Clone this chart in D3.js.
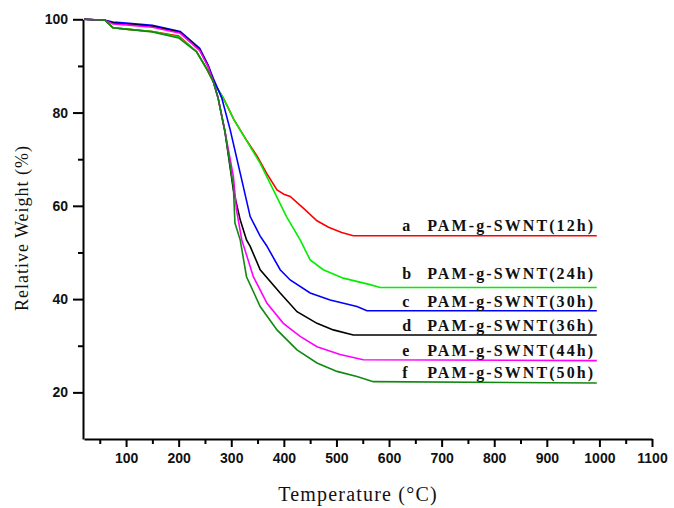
<!DOCTYPE html>
<html>
<head>
<meta charset="utf-8">
<script src="https://cdn.jsdelivr.net/npm/d3@7"></script>
<style>
  body { margin: 0; background: #fff; }
  svg { display: block; }
</style>
</head>
<body>
<div id="chart"></div>
<script>
// TGA curves
const tempA = [20, 60, 75, 100, 150, 200, 234, 253, 266, 285, 305, 329, 350, 367, 387, 400, 412, 437, 463, 485, 510, 532, 995];
const wtA   = [100, 99.8, 98.2, 97.9, 97.4, 96.4, 93.1, 89.5, 86.6, 83.1, 78.5, 74.1, 70.5, 67.0, 63.4, 62.5, 62.0, 59.5, 56.8, 55.4, 54.3, 53.6, 53.6];

const tempB = [20, 60, 75, 100, 150, 200, 234, 253, 266, 285, 305, 329, 355, 380, 405, 431, 450, 475, 513, 564, 583, 995];
const wtB   = [100, 99.8, 98.2, 97.9, 97.4, 96.2, 93.1, 89.5, 86.6, 83.1, 78.5, 74.0, 69.1, 63.4, 57.7, 52.7, 48.4, 46.3, 44.5, 43.1, 42.5, 42.5];

const tempC = [20, 60, 75, 100, 150, 203, 240, 256, 266, 282, 298, 317, 336, 355, 367, 393, 412, 450, 488, 539, 558, 995];
const wtC   = [100, 99.8, 99.4, 99.2, 98.7, 97.4, 93.8, 90.2, 87.3, 83.1, 76.3, 67.0, 57.7, 53.5, 51.5, 46.3, 44.1, 41.3, 39.8, 38.4, 37.5, 37.5];

const tempD = [20, 60, 75, 100, 150, 203, 240, 256, 266, 275, 288, 304, 317, 329, 336, 355, 393, 425, 463, 494, 532, 995];
const wtD   = [100, 99.8, 99.2, 99.0, 98.5, 97.2, 93.5, 90.0, 86.6, 83.1, 75.9, 63.4, 57.0, 52.7, 51.3, 46.3, 41.3, 37.3, 34.8, 33.4, 32.3, 32.3];

const tempE = [20, 60, 75, 100, 150, 203, 240, 256, 266, 275, 288, 304, 310, 320, 342, 368, 399, 431, 463, 507, 551, 995];
const wtE   = [100, 99.8, 99.0, 98.8, 98.3, 97.0, 93.3, 89.8, 86.6, 83.1, 76.0, 66.3, 59.1, 52.7, 44.8, 39.1, 34.8, 32.0, 29.8, 28.1, 27.0, 26.8];

const tempF = [20, 60, 75, 100, 150, 200, 234, 253, 266, 275, 288, 304, 307, 317, 329, 355, 387, 425, 463, 501, 539, 570, 995];
const wtF   = [100, 99.8, 98.2, 97.9, 97.3, 96.0, 93.0, 89.4, 86.6, 83.1, 75.9, 64.1, 56.3, 52.7, 44.8, 38.4, 33.4, 29.1, 26.3, 24.5, 23.4, 22.3, 22.0];

const letters = ["a", "b", "c", "d", "e", "f"];
const names = ["PAM-g-SWNT(12h)", "PAM-g-SWNT(24h)", "PAM-g-SWNT(30h)", "PAM-g-SWNT(36h)", "PAM-g-SWNT(44h)", "PAM-g-SWNT(50h)"];
const colors = ["#ff0000", "#00ee00", "#0000ff", "#000000", "#ff00ff", "#118811"];
// label baseline heights (% weight) and start temperature
const labelWt = [54.7, 44.3, 38.4, 33.2, 27.9, 23.0];
const labelTemp = 625;

const xMajor = d3.range(100, 1101, 100);
const xMinor = d3.range(50, 1100, 100);
const yMajor = [20, 40, 60, 80, 100];
const yMinor = [30, 50, 70, 90];

const width = 674, height = 508;

const svg = d3.select("#chart").append("svg")
    .attr("width", width)
    .attr("height", height);

const x = d3.scaleLinear().domain([20, 1100]).range([84, 652]);
const y = d3.scaleLinear().domain([10, 100]).range([439, 19.3]);

const tickFont = "'Liberation Sans', Arial, sans-serif";
const serif = "'Liberation Serif', 'Times New Roman', serif";

// axes
const xAxisG = svg.append("g").attr("transform", `translate(0,${y(10)})`);
xAxisG.call(d3.axisBottom(x).tickValues(xMajor).tickFormat(d3.format("d"))
    .tickSize(8).tickSizeOuter(0).tickPadding(6));
xAxisG.append("g").call(d3.axisBottom(x).tickValues(xMinor).tickSize(5).tickFormat(""))
    .select(".domain").remove();

const yAxisG = svg.append("g").attr("transform", `translate(${x(20) - 1},0)`);
yAxisG.call(d3.axisLeft(y).tickValues(yMajor).tickFormat(d3.format("d"))
    .tickSize(10).tickSizeOuter(0).tickPadding(5));
yAxisG.append("g").call(d3.axisLeft(y).tickValues(yMinor).tickSize(5).tickFormat(""))
    .select(".domain").remove();

svg.selectAll(".domain, .tick line")
    .attr("stroke", "#000")
    .attr("stroke-width", 2);
svg.selectAll(".tick text")
    .attr("font-family", tickFont)
    .attr("font-size", 14)
    .attr("font-weight", "bold")
    .attr("fill", "#111");

// curves
const series = [
    [tempA, wtA], [tempB, wtB], [tempC, wtC], [tempD, wtD], [tempE, wtE], [tempF, wtF]
].map(([t, w]) => t.map((d, i) => ({ t: d, w: w[i] })));

const line = d3.line()
    .x(d => x(d.t))
    .y(d => y(d.w));

series.forEach((s, i) => {
    svg.append("path")
        .datum(s)
        .attr("fill", "none")
        .attr("stroke", colors[i])
        .attr("stroke-width", 1.6)
        .attr("d", line);
});

// curve labels
letters.forEach((l, i) => {
    svg.append("text")
        .attr("x", x(labelTemp))
        .attr("y", y(labelWt[i]))
        .attr("font-family", serif)
        .attr("font-size", 16)
        .attr("font-weight", "bold")
        .attr("fill", "#111")
        .text(l);
    svg.append("text")
        .attr("x", x(labelTemp) + 25)
        .attr("y", y(labelWt[i]))
        .attr("font-family", serif)
        .attr("font-size", 16)
        .attr("font-weight", "bold")
        .attr("letter-spacing", "2.1px")
        .attr("fill", "#111")
        .text(names[i]);
});

// axis titles
svg.append("text")
    .attr("x", 358)
    .attr("y", 501)
    .attr("text-anchor", "middle")
    .attr("font-family", serif)
    .attr("font-size", 20)
    .attr("letter-spacing", "1.2px")
    .attr("fill", "#111")
    .text("Temperature (°C)");

svg.append("text")
    .attr("transform", `translate(28,228) rotate(-90)`)
    .attr("text-anchor", "middle")
    .attr("font-family", serif)
    .attr("font-size", 18)
    .attr("letter-spacing", "1px")
    .attr("fill", "#111")
    .text("Relative Weight (%)");
</script>
</body>
</html>
